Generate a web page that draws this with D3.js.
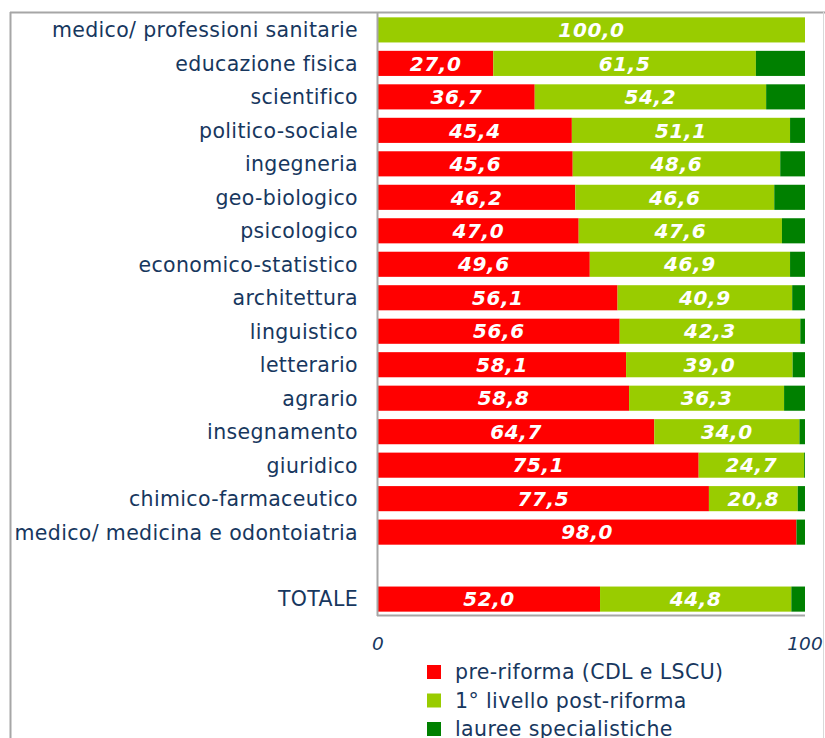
<!DOCTYPE html>
<html>
<head>
<meta charset="utf-8">
<script src="https://cdn.jsdelivr.net/npm/d3@7"></script>
<style>
  body { margin: 0; background: #fff; }
  #chart text { font-family: "DejaVu Sans", Verdana, sans-serif; }
</style>
</head>
<body>
<div id="chart"></div>
<script>
// categories from top to bottom (empty slot before TOTALE)
var categories = ["medico/ professioni sanitarie", "educazione fisica", "scientifico",
  "politico-sociale", "ingegneria", "geo-biologico", "psicologico", "economico-statistico",
  "architettura", "linguistico", "letterario", "agrario", "insegnamento", "giuridico",
  "chimico-farmaceutico", "medico/ medicina e odontoiatria", "", "TOTALE"];

var preRiforma = [0, 27.0, 36.7, 45.4, 45.6, 46.2, 47.0, 49.6, 56.1, 56.6, 58.1, 58.8, 64.7, 75.1, 77.5, 98.0, null, 52.0];
var primoLivello = [100.0, 61.5, 54.2, 51.1, 48.6, 46.6, 47.6, 46.9, 40.9, 42.3, 39.0, 36.3, 34.0, 24.7, 20.8, 0, null, 44.8];
var specialistiche = [0, 11.5, 9.1, 3.5, 5.8, 7.2, 5.4, 3.5, 3.0, 1.1, 2.9, 4.9, 1.3, 0.2, 1.7, 2.0, null, 3.2];

var seriesNames = ["pre-riforma (CDL e LSCU)", "1° livello post-riforma", "lauree specialistiche"];
var xTicks = [0, 100];

var colors = ["#ff0000", "#99cc00", "#008000"];
var textColor = "#17375e";

var W = 825, H = 738;
var svg = d3.select("#chart").append("svg")
  .attr("width", W)
  .attr("height", H);

// outer frame
svg.append("line").attr("x1", 10.5).attr("x2", 10.5).attr("y1", 12).attr("y2", H)
  .attr("stroke", "#a6a6a6").attr("stroke-width", 2);
svg.append("line").attr("x1", 10).attr("x2", W).attr("y1", 12.5).attr("y2", 12.5)
  .attr("stroke", "#a6a6a6").attr("stroke-width", 2);
svg.append("line").attr("x1", 823.5).attr("x2", 823.5).attr("y1", 12).attr("y2", H)
  .attr("stroke", "#d9d9d9").attr("stroke-width", 1);

var plotLeft = 378, plotRight = 805, plotTop = 14, plotBottom = 615;

var x = d3.scaleLinear().domain([0, 100]).range([plotLeft, plotRight]);
var y = d3.scaleBand()
  .domain(d3.range(categories.length))
  .range([plotTop, plotBottom])
  .paddingInner(0.25)
  .paddingOuter(0.1);

var rows = categories.map(function(c, i) {
  return { cat: c, i: i, vals: [preRiforma[i], primoLivello[i], specialistiche[i]] };
});

var g = svg.append("g");

rows.forEach(function(r) {
  if (r.vals[0] === null) return;
  var start = 0;
  r.vals.forEach(function(v, k) {
    if (v > 0) {
      g.append("rect")
        .attr("x", x(start))
        .attr("y", y(r.i))
        .attr("width", x(start + v) - x(start))
        .attr("height", y.bandwidth())
        .attr("fill", colors[k]);
      if (k < 2) {
        g.append("text")
          .attr("x", (x(start) + x(start + v)) / 2)
          .attr("y", y(r.i) + y.bandwidth() / 2)
          .attr("dy", "0.36em")
          .attr("text-anchor", "middle")
          .attr("fill", "#fff")
          .attr("font-weight", "bold")
          .attr("font-style", "italic")
          .attr("font-size", "20px")
          .attr("letter-spacing", "0.6px")
          .text(d3.format(".1f")(v).replace(".", ","));
      }
    }
    start += v;
  });
});

// category labels
svg.selectAll(".cat-label")
  .data(rows)
  .enter()
  .append("text")
  .attr("class", "cat-label")
  .attr("x", 358)
  .attr("y", function(d) { return y(d.i) + y.bandwidth() / 2; })
  .attr("dy", "0.36em")
  .attr("text-anchor", "end")
  .attr("fill", textColor)
  .attr("font-size", "20.5px")
  .attr("letter-spacing", "0.35px")
  .text(function(d) { return d.cat; });

// axis lines
svg.append("line").attr("x1", plotLeft - 0.5).attr("x2", plotLeft - 0.5)
  .attr("y1", plotTop - 1).attr("y2", plotBottom + 1)
  .attr("stroke", "#a6a6a6").attr("stroke-width", 2);
svg.append("line").attr("x1", plotLeft - 1).attr("x2", plotRight)
  .attr("y1", plotBottom + 0.5).attr("y2", plotBottom + 0.5)
  .attr("stroke", "#a6a6a6").attr("stroke-width", 2);

// tick labels
svg.selectAll(".tick-label")
  .data(xTicks)
  .enter()
  .append("text")
  .attr("class", "tick-label")
  .attr("x", function(d) { return x(d); })
  .attr("y", 650)
  .attr("text-anchor", "middle")
  .attr("fill", textColor)
  .attr("font-style", "italic")
  .attr("font-size", "18.5px")
  .text(function(d) { return d; });

// legend
var legend = svg.selectAll(".legend")
  .data(seriesNames)
  .enter()
  .append("g")
  .attr("class", "legend")
  .attr("transform", function(d, i) { return "translate(427," + (672 + i * 28.5) + ")"; });

legend.append("rect")
  .attr("x", 0).attr("y", -7)
  .attr("width", 14).attr("height", 14)
  .attr("fill", function(d, i) { return colors[i]; });

legend.append("text")
  .attr("x", 28)
  .attr("dy", "0.36em")
  .attr("fill", textColor)
  .attr("font-size", "20.5px")
  .attr("letter-spacing", "0.4px")
  .text(function(d) { return d; });
</script>
</body>
</html>
